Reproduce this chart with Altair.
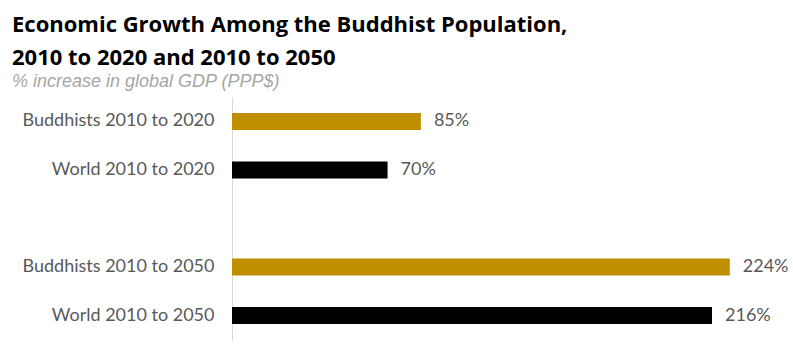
import altair as alt
import pandas as pd

categories = ["Buddhists 2010 to 2020", "World 2010 to 2020", "Buddhists 2010 to 2050", "World 2010 to 2050"]
values = [85, 70, 224, 216]
labels = ["85%", "70%", "224%", "216%"]
groups = ["Buddhists", "World", "Buddhists", "World"]
spacer = " "
order = categories[:2] + [spacer] + categories[2:]

df = pd.DataFrame({"cat": categories, "val": values, "lab": labels, "grp": groups})

y = alt.Y("cat:N", sort=order, scale=alt.Scale(domain=order, paddingInner=0.65, paddingOuter=0.33),
          axis=alt.Axis(title=None, ticks=False, domainColor="#d9d9d9", domainWidth=1,
                        labelFont="Lato", labelFontSize=18, labelColor="#595959",
                        labelPadding=18, labelLimit=400))
x = alt.X("val:Q", scale=alt.Scale(domain=[0, 252], nice=False), axis=None)

bars = alt.Chart(df).mark_bar().encode(
    x=x, y=y,
    color=alt.Color("grp:N", scale=alt.Scale(domain=["Buddhists", "World"], range=["#bf8f00", "#000000"]), legend=None),
)
text = alt.Chart(df).mark_text(align="left", dx=13, font="Lato", fontSize=18, color="#595959").encode(
    x=x, y=y, text="lab:N"
)

chart = (bars + text).properties(
    width=560, height=243,
    padding={"left": 232, "top": 97, "right": 1, "bottom": 13},
    autosize=alt.AutoSizeParams(type="none"),
    title=alt.TitleParams(
        text=["Economic Growth Among the Buddhist Population,", "2010 to 2020 and 2010 to 2050"],
        subtitle="% increase in global GDP (PPP$)",
        anchor="start", frame="group", dx=-220, offset=5,
        font="Open Sans", fontSize=22, fontWeight="bold", color="#000000", lineHeight=33,
        subtitleFont="Liberation Sans", subtitleFontSize=18, subtitleFontStyle="italic",
        subtitleColor="#a6a6a6", subtitlePadding=3,
    ),
).configure_view(stroke=None)

chart.save("out.html", embed_options={"renderer": "svg", "actions": False})
